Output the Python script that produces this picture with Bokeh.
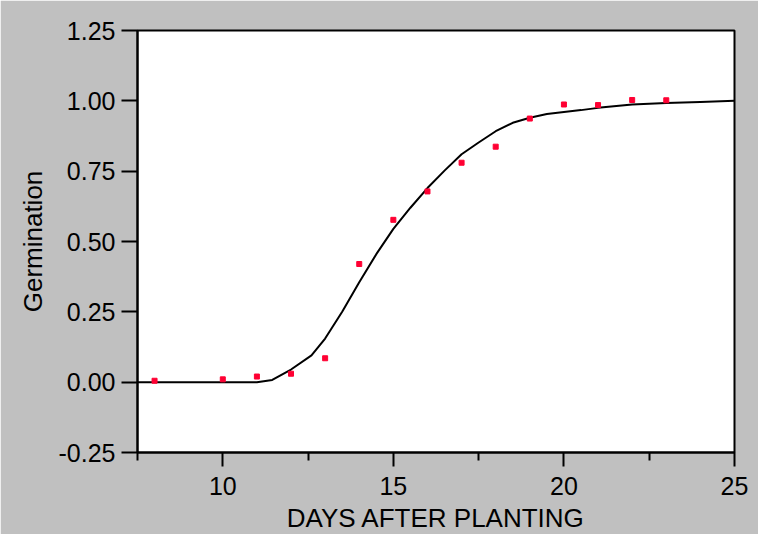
from bokeh.plotting import figure
from bokeh.models import Range1d, FixedTicker, NumeralTickFormatter
from bokeh.embed import file_html
from bokeh.resources import INLINE

# Observed germination (fraction) by day
days = [8, 10, 11, 12, 13, 14, 15, 16, 17, 18, 19, 20, 21, 22, 23]
germination = [0.005, 0.01, 0.02, 0.03, 0.085, 0.42, 0.577, 0.678, 0.78, 0.837,
               0.937, 0.987, 0.985, 1.003, 1.002]

# Fitted curve
curve_days = [7.5, 11.0, 11.45, 12.0, 12.6, 13.0, 13.5, 14.0, 14.5, 15.0, 15.5,
              16.0, 16.5, 17.0, 17.5, 18.0, 18.5, 19.0, 19.5, 20.0, 20.5, 21.0,
              22.0, 23.0, 24.0, 25.0]
curve_germ = [0.0, 0.0, 0.008, 0.045, 0.095, 0.155, 0.25, 0.355, 0.455, 0.545, 0.62,
              0.69, 0.752, 0.81, 0.852, 0.892, 0.922, 0.94, 0.953, 0.96, 0.967, 0.975,
              0.987, 0.992, 0.996, 1.0]

x_major = [10, 15, 20, 25]
x_minor = [7.5, 12.5, 17.5, 22.5]
y_ticks = [-0.25, 0.0, 0.25, 0.5, 0.75, 1.0, 1.25]

GREY = "#c0c0c0"
FONT = "Liberation Sans"

p = figure(width=758, height=534, output_backend="svg", toolbar_location=None,
           x_range=Range1d(7.5, 25), y_range=Range1d(-0.25, 1.25),
           min_border_left=137, min_border_top=30, min_border_right=24,
           min_border_bottom=82, frame_width=597, frame_height=422)

p.background_fill_color = "white"
p.border_fill_color = GREY
p.outline_line_color = "black"
p.outline_line_width = 2
p.xgrid.visible = False
p.ygrid.visible = False

p.xaxis.ticker = FixedTicker(ticks=x_major, minor_ticks=x_minor)
p.yaxis.ticker = FixedTicker(ticks=y_ticks, minor_ticks=[])
p.yaxis.formatter = NumeralTickFormatter(format="0.00")

for ax in (p.xaxis, p.yaxis):
    ax.axis_line_color = "black"
    ax.axis_line_width = 2
    ax.major_tick_line_color = "black"
    ax.major_tick_line_width = 2
    ax.minor_tick_line_color = "black"
    ax.minor_tick_line_width = 2
    ax.major_tick_in = 0
    ax.minor_tick_in = 0
    ax.major_label_text_font = FONT
    ax.major_label_text_font_size = "25px"
    ax.major_label_text_color = "black"
    ax.axis_label_text_font = FONT
    ax.axis_label_text_font_size = "26px"
    ax.axis_label_text_font_style = "normal"
    ax.axis_label_text_color = "black"

p.xaxis.major_tick_out = 14
p.xaxis.minor_tick_out = 8
p.xaxis.major_label_standoff = 10
p.xaxis.axis_label = "DAYS AFTER PLANTING"
p.xaxis.axis_label_standoff = 5

p.yaxis.major_tick_out = 16
p.yaxis.major_label_standoff = 6
p.yaxis.axis_label = "Germination"
p.yaxis.axis_label_standoff = 8

p.line(curve_days, curve_germ, line_color="black", line_width=2)
p.scatter(days, germination, marker="square", size=5, fill_color="#ff0033",
          line_color="#ff0033")

open("out.html", "w").write(file_html(p, INLINE))
